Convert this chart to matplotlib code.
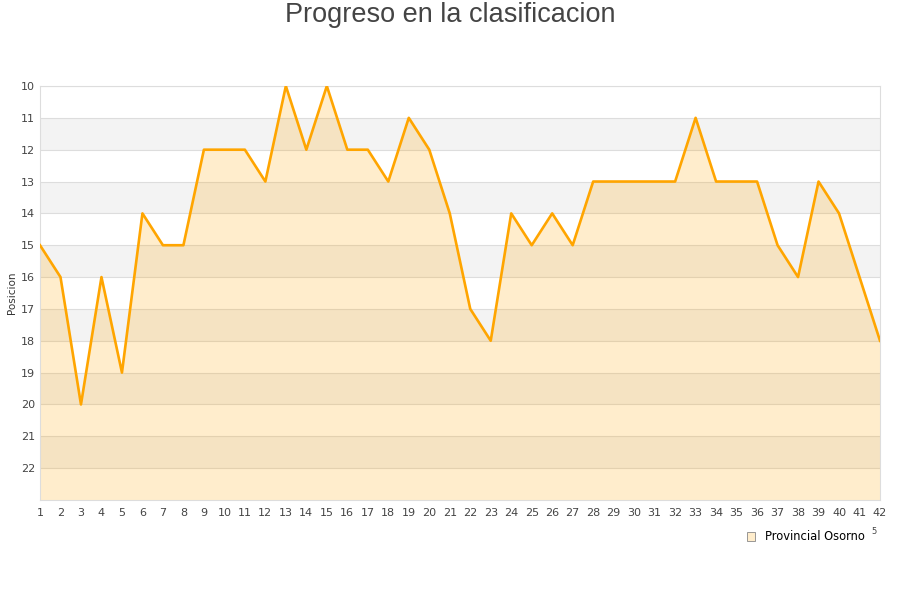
import matplotlib.pyplot as plt
from matplotlib.patches import Patch

plt.rcParams['font.family'] = ['DejaVu Sans']

jornadas = list(range(1, 43))
posicion = [15, 16, 20, 16, 19, 14, 15, 15, 12, 12, 12, 13, 10, 12, 10, 12, 12, 13, 11, 12, 14,
            17, 18, 14, 15, 14, 15, 13, 13, 13, 13, 13, 11, 13, 13, 13, 15, 16, 13, 14, 16, 18]
equipo = "Provincial Osorno"

fig = plt.figure(figsize=(9, 6), dpi=100)
ax = fig.add_axes([40 / 900, 100 / 600, 840 / 900, 414 / 600])

# bandas alternas
for y in range(11, 23, 2):
    ax.axhspan(y, y + 1, color='#f3f3f3', zorder=0, lw=0)
for y in range(10, 23):
    ax.axhline(y, color='#dddddd', lw=0.8, zorder=1)

ax.fill_between(jornadas, posicion, 23, color='#ffa500', alpha=0.2, lw=0, zorder=2)
ax.plot(jornadas, posicion, color='#ffa500', lw=1.9, zorder=3)

ax.set_xlim(1, 42)
ax.set_ylim(23, 10)
ax.set_yticks(range(10, 23))
ax.set_xticks(jornadas)
ax.tick_params(axis='both', length=0, labelsize=8, colors='#444444')
ax.tick_params(axis='x', pad=6)
for s in ax.spines.values():
    s.set_color('#dddddd')
ax.set_ylabel("Posicion", fontsize=7.5, color='#333333', labelpad=3)

fig.text(0.5, 1 - 15 / 600, "Progreso en la clasificacion", fontsize=19.5, color='#444444',
         family='Liberation Sans', ha='center', va='center')

leg = fig.legend(handles=[Patch(facecolor='#ffedcc', edgecolor='#888888', lw=0.6, label=equipo)],
                 loc='center right', bbox_to_anchor=(972 / 1000, 1 - 537 / 600), frameon=False,
                 fontsize=8.3, handlelength=0.7, handleheight=0.7, handletextpad=0.8)
fig.text(874 / 900, 1 - 532 / 600, "5", fontsize=6, color='#444444', ha='center', va='center')

fig.savefig("out.png", dpi=100)
